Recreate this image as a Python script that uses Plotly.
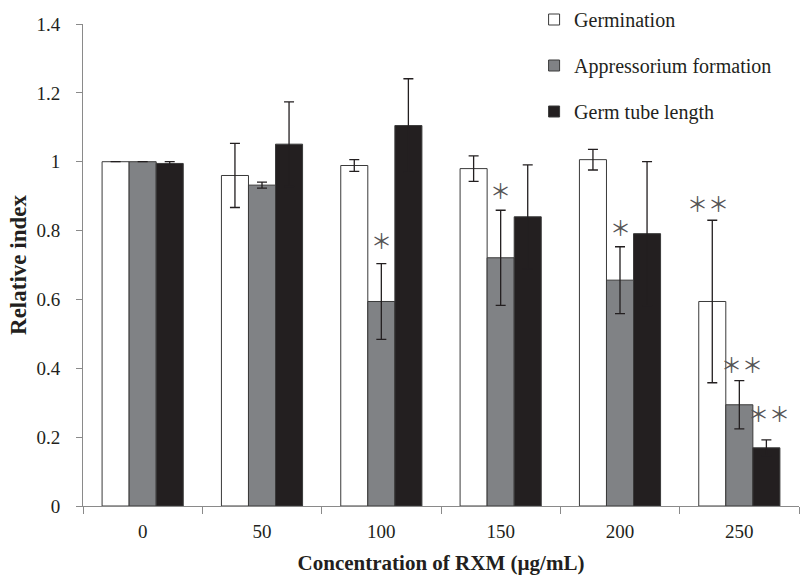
import plotly.graph_objects as go

categories = ["0", "50", "100", "150", "200", "250"]

germination = [1.0, 0.96, 0.989, 0.98, 1.006, 0.594]
germination_err = [0.0, 0.093, 0.017, 0.037, 0.03, 0.236]

appressorium = [1.0, 0.932, 0.594, 0.721, 0.656, 0.294]
appressorium_err = [0.0, 0.009, 0.11, 0.138, 0.097, 0.07]

germ_tube = [0.995, 1.051, 1.105, 0.84, 0.791, 0.169]
germ_tube_err = [0.005, 0.123, 0.136, 0.151, 0.209, 0.023]

# significance marks: (category, series index, label, y position)
sig_cats = ["100", "150", "200", "250", "250", "250"]
sig_series = [1, 1, 1, 0, 1, 2]
sig_labels = ["＊", "＊", "＊", "＊＊", "＊＊", "＊＊"]
sig_y = [0.773, 0.919, 0.811, 0.88, 0.413, 0.27]

FONT = "Liberation Serif"
DARK = "#231f20"

fig = go.Figure()
series = [
    ("Germination", germination, germination_err, "#ffffff"),
    ("Appressorium formation", appressorium, appressorium_err, "#808285"),
    ("Germ tube length", germ_tube, germ_tube_err, DARK),
]
for i, (name, vals, errs, col) in enumerate(series):
    fig.add_trace(go.Bar(
        name=name, x=categories, y=vals,
        marker=dict(color=col, line=dict(color="#3a3a3a", width=1)),
        error_y=dict(type="data", array=errs, visible=True, color=DARK,
                     thickness=1.3, width=5),
        showlegend=False,
    ))
    # small square legend symbol
    fig.add_trace(go.Scatter(
        name=name, x=[None], y=[None], mode="markers",
        marker=dict(symbol="square", size=11, color=col,
                    line=dict(color="#3a3a3a", width=1)),
        legendgroup=f"g{i}", showlegend=True,
    ))

offsets = [-1, 0, 1]
cat_index = {c: i for i, c in enumerate(categories)}
bar_w = (1 - 0.32) / 3
for c, s, lab, yv in zip(sig_cats, sig_series, sig_labels, sig_y):
    xpos = cat_index[c] + offsets[s] * bar_w
    fig.add_annotation(
        x=xpos, y=yv, xref="x", yref="y", text=lab, showarrow=False,
        font=dict(family="Noto Sans CJK JP", size=21, color="#555555"),
        xshift=(-4 if s == 0 else (0 if len(lab) == 1 and s == 1 else 3)),
    )

fig.update_layout(
    width=810, height=575,
    margin=dict(l=83, r=11, t=24, b=69, autoexpand=False),
    plot_bgcolor="white", paper_bgcolor="white",
    barmode="group", bargap=0.32, bargroupgap=0,
    font=dict(family=FONT, size=19, color=DARK),
    legend=dict(
        x=0.63, y=1.0, xanchor="left", yanchor="top", yref="container",
        font=dict(family=FONT, size=20, color=DARK),
        tracegroupgap=17, bgcolor="rgba(0,0,0,0)", itemwidth=30,
    ),
    xaxis=dict(
        type="category", showline=True, linecolor="#8a8a8a", linewidth=1,
        ticks="outside", tickson="boundaries", ticklen=7, tickcolor="#8a8a8a",
        tickfont=dict(family=FONT, size=19, color=DARK),
        ticklabelstandoff=8, automargin=False,
        title=dict(text="<b>Concentration of RXM (µg/mL)</b>",
                   font=dict(family=FONT, size=21, color=DARK), standoff=16),
        showgrid=False,
    ),
    yaxis=dict(
        range=[0, 1.4], tickvals=[0, 0.2, 0.4, 0.6, 0.8, 1.0, 1.2, 1.4],
        ticktext=["0", "0.2", "0.4", "0.6", "0.8", "1", "1.2", "1.4"],
        showline=True, linecolor="#8a8a8a", linewidth=1,
        ticks="outside", ticklen=6, tickcolor="#8a8a8a",
        tickfont=dict(family=FONT, size=19, color=DARK),
        ticklabelstandoff=12, automargin=False,
        title=dict(text="<b>Relative index</b>",
                   font=dict(family=FONT, size=23, color=DARK), standoff=3),
        showgrid=False, zeroline=False,
    ),
)

fig.write_html("out.html")
